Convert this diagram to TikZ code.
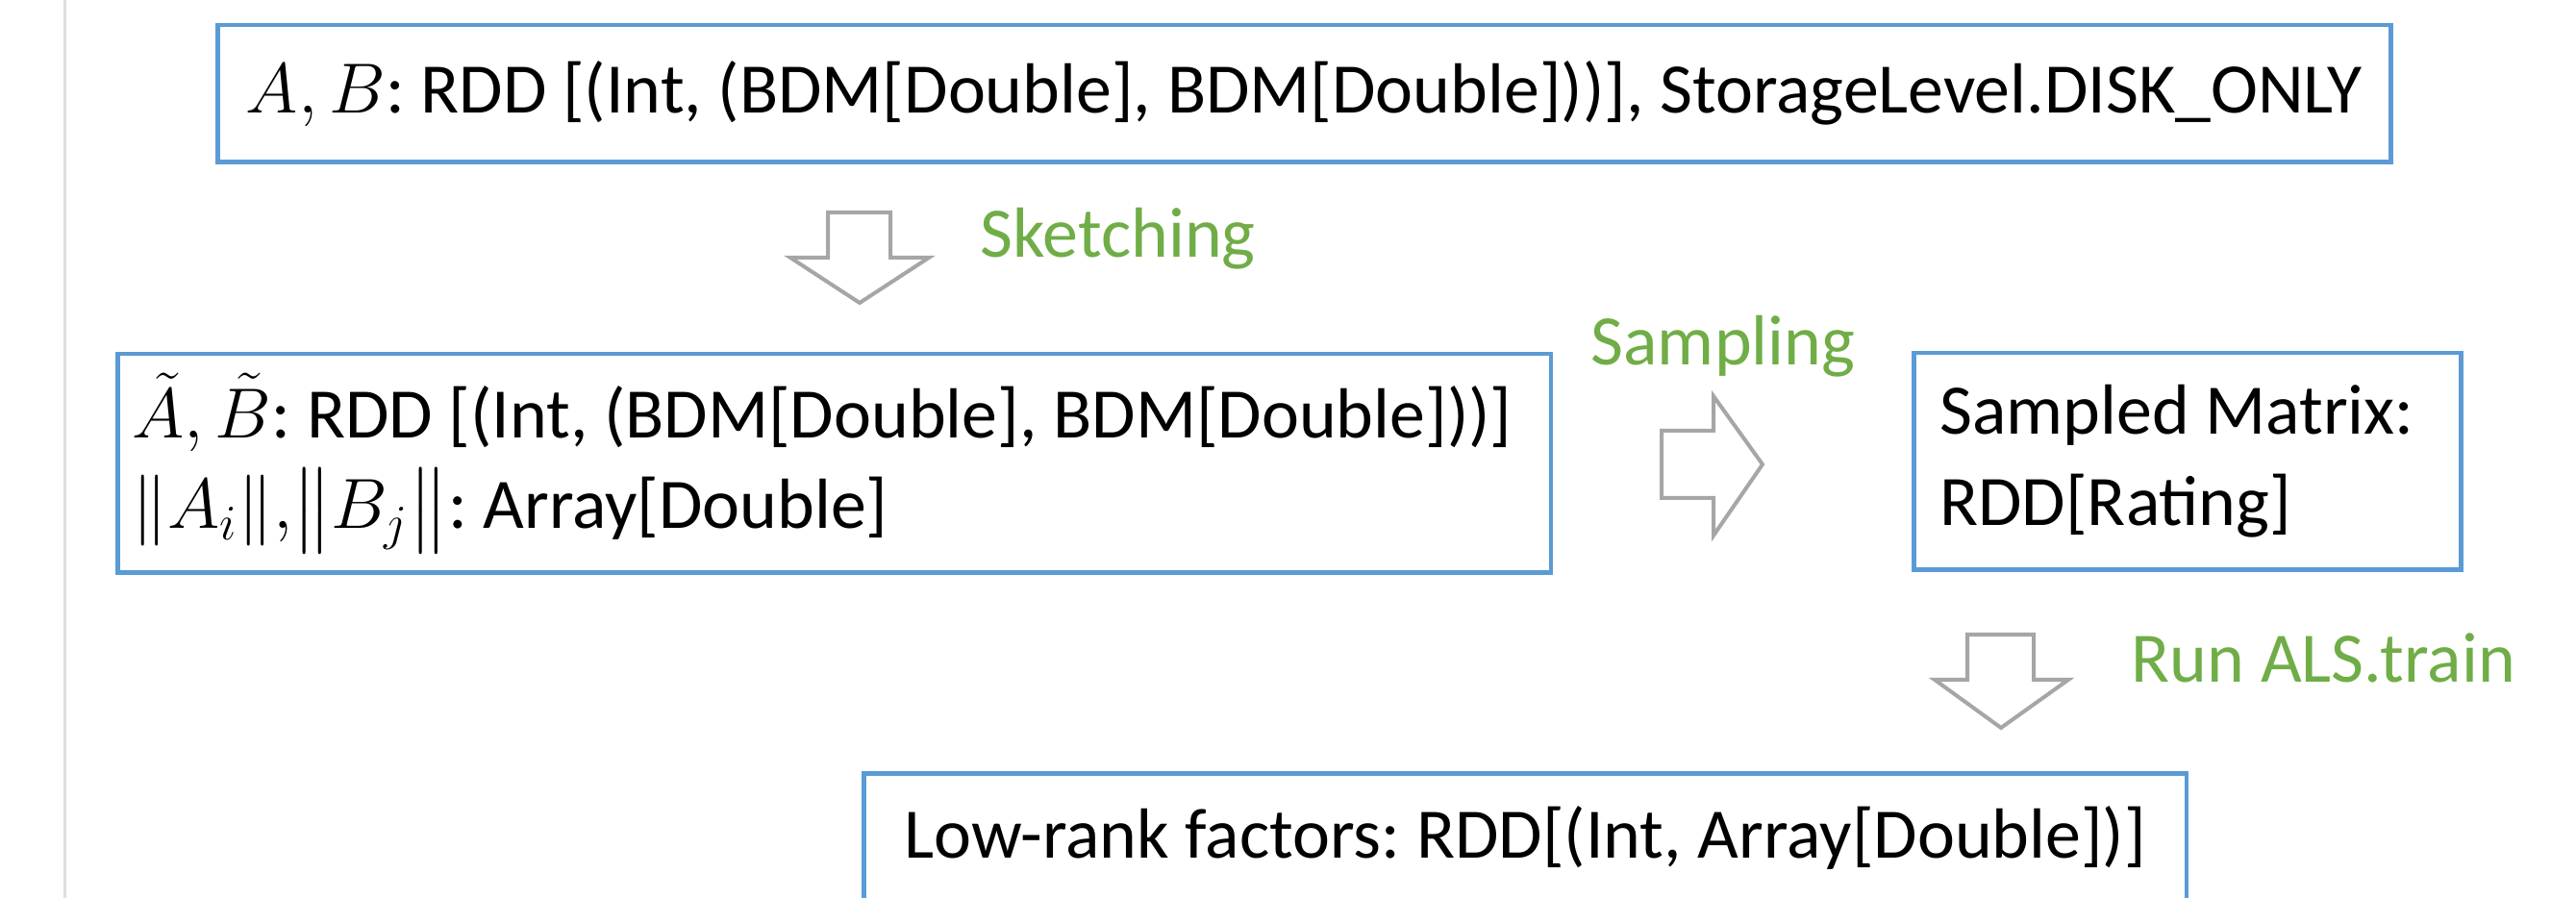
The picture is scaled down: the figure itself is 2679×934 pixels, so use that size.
\RequirePackage{fix-cm}
\documentclass[tikz,border=0pt]{standalone}
\usepackage{amsmath}
\usepackage{fontspec}
\setmainfont{Carlito}
\frenchspacing
\definecolor{boxblue}{HTML}{5B9BD5}
\definecolor{labelgreen}{HTML}{70AD47}
\definecolor{arrowgray}{HTML}{A6A6A6}
\definecolor{rulegray}{HTML}{DEDEDE}
\newcommand\diagfont{\fontsize{21}{27}\selectfont\frenchspacing}
\tikzset{
  box/.style={draw=boxblue, line width=0.045cm, anchor=north west, font=\diagfont, inner ysep=0pt},
  blockarrow/.style={draw=arrowgray, line width=0.04cm, fill=white, line join=miter},
  lbl/.style={text=labelgreen, font=\diagfont, anchor=base west, inner sep=0pt}
}
\begin{document}
\begin{tikzpicture}[x=0.01cm, y=-0.01cm]
\useasboundingbox (0,0) rectangle (2679,934);
\clip (0,0) rectangle (2679,934);
% left rule
\draw[rulegray, line width=0.03cm] (67,0) -- (67,934);
% boxes
\node[box, minimum width=22.59cm, minimum height=1.42cm, inner xsep=0pt] (top) at (224,24)
  {$A, B$: RDD [(Int, (BDM[Double], BDM[Double]))], StorageLevel.DISK\_ONLY};
\node[box, minimum height=2.27cm, text width=14.6cm, inner xsep=0.15cm, align=flush left] (sketch) at (120,366)
  {\mbox{$\tilde{A}, \tilde{B}$: RDD [(Int, (BDM[Double], BDM[Double]))]}\\
   \mbox{$\|A_i\|{,}\bigl\|B_j\bigr\|$: Array[Double]}};
\node[box, minimum height=2.25cm, text width=5.15cm, inner xsep=0.27cm, align=flush left] (sampled) at (1988,365)
  {\mbox{Sampled Matrix:}\\\mbox{RDD[Rating]}};
\node[box, minimum width=13.75cm, minimum height=1.35cm, inner xsep=0pt] (factors) at (896,802)
  {Low-rank factors: RDD[(Int, Array[Double])]};
% block arrows
\draw[blockarrow] (861,221) -- (926,221) -- (926,268) -- (966,268) -- (894,315) -- (822,268) -- (861,268) -- cycle;
\draw[blockarrow] (1728,448) -- (1782,448) -- (1782,412) -- (1833,483) -- (1782,557) -- (1782,518) -- (1728,518) -- cycle;
\draw[blockarrow] (2046,660) -- (2115,660) -- (2115,707) -- (2151,707) -- (2081,757) -- (2012,707) -- (2046,707) -- cycle;
% labels
\node[lbl] (lsketch) at (1019,268) {Sketching};
\node[lbl] (lsample) at (1654,380) {Sampling};
\node[lbl] (lals) at (2216,709) {Run ALS.train};
\end{tikzpicture}
\end{document}
